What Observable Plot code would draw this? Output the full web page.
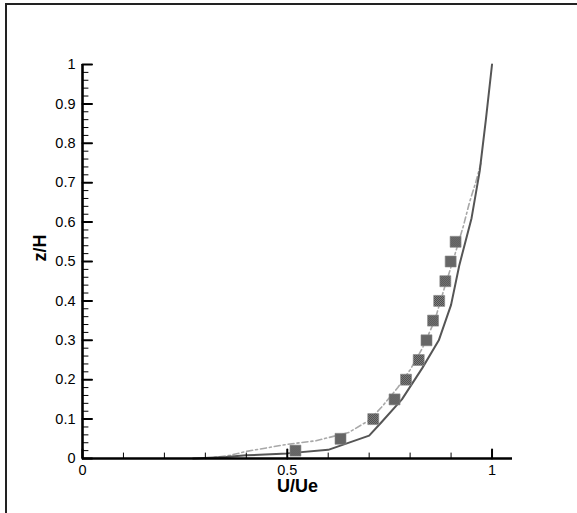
<!DOCTYPE html>
<html>
<head>
<meta charset="utf-8">
<script src="https://cdn.jsdelivr.net/npm/d3@7"></script>
<script src="https://cdn.jsdelivr.net/npm/@observablehq/plot@0.6"></script>
<style>
  html, body { margin: 0; padding: 0; background: #fff; }
  #wrap { position: relative; width: 577px; height: 513px; overflow: hidden; }
  #border { position: absolute; left: 5px; top: 3px; width: 600px; height: 600px;
            border-left: 2px solid #222; border-top: 2px solid #222; box-sizing: border-box; }
  #chart { position: absolute; left: 0; top: 0; width: 577px; height: 513px; }
</style>
</head>
<body>
<div id="wrap"><div id="border"></div><div id="chart"></div></div>
<script>
// Solid line (model 1)
const solidX = [0.27, 0.35, 0.40, 0.50, 0.60, 0.70, 0.73, 0.78, 0.83, 0.87, 0.90, 0.92, 0.95, 0.97, 0.985, 1.0];
const solidY = [0.0, 0.004, 0.008, 0.013, 0.022, 0.058, 0.092, 0.15, 0.23, 0.30, 0.39, 0.49, 0.61, 0.73, 0.86, 1.0];
// Dash-dot line (model 2)
const dashX = [0.30, 0.36, 0.40, 0.50, 0.57, 0.65, 0.70, 0.73, 0.77, 0.80, 0.83, 0.86, 0.88, 0.91, 0.93, 0.945, 0.96, 0.973];
const dashY = [0.0, 0.008, 0.018, 0.036, 0.045, 0.066, 0.097, 0.13, 0.18, 0.225, 0.28, 0.35, 0.42, 0.52, 0.59, 0.65, 0.70, 0.75];
// Experimental squares
const expX = [0.52, 0.63, 0.71, 0.762, 0.79, 0.821, 0.84, 0.856, 0.871, 0.886, 0.899, 0.911];
const expY = [0.02, 0.05, 0.10, 0.15, 0.20, 0.25, 0.30, 0.35, 0.40, 0.45, 0.50, 0.55];
// Ticks
const xMajor = [0, 0.5, 1];
const xMinor = [0.1, 0.2, 0.3, 0.4, 0.6, 0.7, 0.8, 0.9];
const yMajor = [0, 0.1, 0.2, 0.3, 0.4, 0.5, 0.6, 0.7, 0.8, 0.9, 1];
const yMinor = [0.02, 0.04, 0.06, 0.08, 0.12, 0.14, 0.16, 0.18, 0.22, 0.24, 0.26, 0.28,
  0.32, 0.34, 0.36, 0.38, 0.42, 0.44, 0.46, 0.48, 0.52, 0.54, 0.56, 0.58, 0.62, 0.64, 0.66, 0.68,
  0.72, 0.74, 0.76, 0.78, 0.82, 0.84, 0.86, 0.88, 0.92, 0.94, 0.96, 0.98];
const xLabel = "U/Ue";
const yLabel = "z/H";

const solid = solidX.map((x, i) => ({x, y: solidY[i]}));
const dash = dashX.map((x, i) => ({x, y: dashY[i]}));
const exp = expX.map((x, i) => ({x, y: expY[i]}));

const fmt = d => String(d);
const tickShape = {draw(context, l) { context.moveTo(0, 0); context.lineTo(0, -l); }};
const font = "'Liberation Sans', Arial, Helvetica, sans-serif";

const chart = Plot.plot({
  width: 577,
  height: 513,
  marginLeft: 82,
  marginRight: 65,
  marginTop: 64,
  marginBottom: 55,
  style: {fontFamily: font, background: "transparent", color: "#000"},
  x: {domain: [0, 1.05], axis: null},
  y: {domain: [0, 1], axis: null},
  marks: [
    Plot.line(dash, {x: "x", y: "y", stroke: "#a8a8a8", strokeWidth: 1.6, strokeDasharray: "6,3,2,3"}),
    Plot.line(solid, {x: "x", y: "y", stroke: "#555", strokeWidth: 2}),
    Plot.dot(exp, {x: "x", y: "y", symbol: "square", r: 6.2, fill: "url(#chk)", stroke: "#888", strokeWidth: 0.6}),
    // y ticks (inward)
    Plot.vector(yMajor, {x: () => 0, y: d => d, length: 9.5, rotate: 90, anchor: "start", shape: tickShape, stroke: "#000", strokeWidth: 2}),
    Plot.vector(yMinor, {x: () => 0, y: d => d, length: 5.5, rotate: 90, anchor: "start", shape: tickShape, stroke: "#000", strokeWidth: 1}),
    // x ticks (inward)
    Plot.vector(xMajor, {x: d => d, y: () => 0, length: 9, rotate: 0, anchor: "start", shape: tickShape, stroke: "#000", strokeWidth: 2}),
    Plot.vector(xMinor, {x: d => d, y: () => 0, length: 5.5, rotate: 0, anchor: "start", shape: tickShape, stroke: "#000", strokeWidth: 1}),
    // axis lines
    Plot.ruleX([0], {y1: 0, y2: 1, stroke: "#000", strokeWidth: 2.6}),
    Plot.ruleY([0], {x1: 0, x2: 1.05, stroke: "#000", strokeWidth: 2.6}),
    // tick labels
    Plot.text(yMajor, {x: () => 0, y: d => d, text: fmt, textAnchor: "end", dx: -7, fontSize: 14.5, fill: "#000"}),
    Plot.text(xMajor, {x: d => d, y: () => 0, text: fmt, dy: 11.5, lineAnchor: "middle", fontSize: 14.5, fill: "#000"}),
    // axis titles
    Plot.text([xLabel], {frameAnchor: "bottom", dy: 27.5, lineAnchor: "middle", fontSize: 18, fontWeight: "bold", fill: "#000"}),
    Plot.text([yLabel], {frameAnchor: "left", dx: -42, rotate: -90, lineAnchor: "middle", fontSize: 18, fontWeight: "bold", fill: "#000"})
  ]
});

// checker (dither) pattern for the squares
const svg = d3.select(chart);
const defs = svg.insert("defs", ":first-child");
const pat = defs.append("pattern").attr("id", "chk").attr("patternUnits", "userSpaceOnUse")
  .attr("width", 2).attr("height", 2);
pat.append("rect").attr("width", 2).attr("height", 2).attr("fill", "#9a9a9a");
pat.append("rect").attr("x", 0).attr("y", 0).attr("width", 1).attr("height", 1).attr("fill", "#333");
pat.append("rect").attr("x", 1).attr("y", 1).attr("width", 1).attr("height", 1).attr("fill", "#333");

document.getElementById("chart").appendChild(chart);
</script>
</body>
</html>
